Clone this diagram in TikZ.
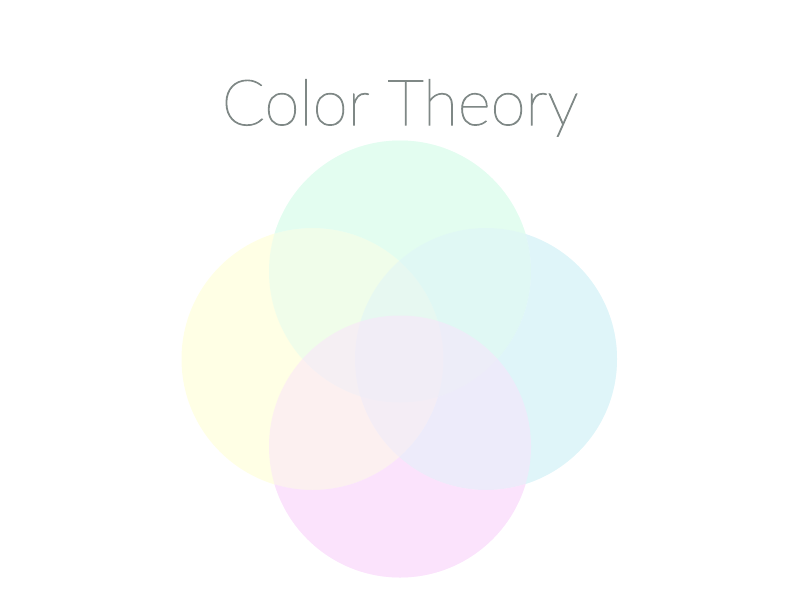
\documentclass[tikz,border=0pt]{standalone}
\usepackage{fontspec}
\setmainfont{Lato}[UprightFont=* Thin, FakeBold=1.6]
\definecolor{titlegray}{RGB}{127,136,134}
\definecolor{cyel}{RGB}{255,255,229}
\definecolor{cgrn}{RGB}{227,253,240}
\definecolor{ccyn}{RGB}{223,245,249}
\definecolor{cpnk}{RGB}{251,227,252}
\begin{document}
\begin{tikzpicture}[x=1pt,y=-1pt,
  petal/.style={circle, minimum size=262pt, inner sep=0pt, draw=none},
  half/.style={fill opacity=0.5}]
\useasboundingbox (0,0) rectangle (800,600);
\def\R{131}
\def\outside#1{\clip (0,0) rectangle (800,600) (#1) circle[radius=\R];}
% positions
\coordinate (cy) at (312.5,359);
\coordinate (cg) at (400,271.5);
\coordinate (cc) at (486,359);
\coordinate (cp) at (400,446.5);
% yellow (first, opaque)
\node[petal, fill=cyel] (yellow) at (cy) {};
% green
\node[petal, fill=cgrn, half] (green) at (cg) {};
\begin{scope}[even odd rule]
  \outside{cy}
  \fill[cgrn] (cg) circle[radius=\R];
\end{scope}
% cyan
\node[petal, fill=ccyn, half] (cyan) at (cc) {};
\begin{scope}[even odd rule]
  \outside{cy}
  \begin{scope}[even odd rule]
    \outside{cg}
    \fill[ccyn] (cc) circle[radius=\R];
  \end{scope}
\end{scope}
% pink
\node[petal, fill=cpnk, half] (pink) at (cp) {};
\begin{scope}[even odd rule]
  \outside{cy}
  \begin{scope}[even odd rule]
    \outside{cg}
    \begin{scope}[even odd rule]
      \outside{cc}
      \fill[cpnk] (cp) circle[radius=\R];
    \end{scope}
  \end{scope}
\end{scope}
\node[anchor=base, text=titlegray, font=\fontsize{63.5}{70}\selectfont] (title) at (400,125) {Color Theory};
\end{tikzpicture}
\end{document}
